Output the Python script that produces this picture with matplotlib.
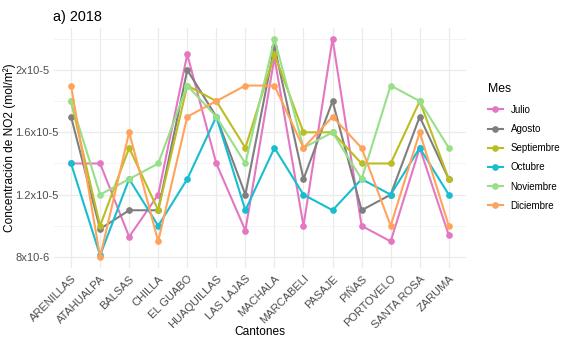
import matplotlib.pyplot as plt
import numpy as np

plt.rcParams["font.family"] = ["Liberation Sans", "DejaVu Sans"]

cantones = ["ARENILLAS", "ATAHUALPA", "BALSAS", "CHILLA", "EL GUABO", "HUAQUILLAS",
            "LAS LAJAS", "MACHALA", "MARCABELI", "PASAJE", "PIÑAS", "PORTOVELO",
            "SANTA ROSA", "ZARUMA"]

# NO2 en mol/m2 (x1e-6)
julio      = [14, 14, 9.3, 12, 21, 14, 9.7, 20.8, 10, 22, 10, 9, 15, 9.4]
agosto     = [17, 9.8, 11, 11, 20, 17, 12, 21.5, 13, 18, 11, 12, 17, 13]
septiembre = [18, 10, 15, 11, 19, 18, 15, 21, 16, 16, 14, 14, 18, 13]
octubre    = [14, 8.1, 13, 10, 13, 17, 11, 15, 12, 11, 13, 12, 15, 12]
noviembre  = [18, 12, 13, 14, 19, 17, 14, 22, 15, 16, 13, 19, 18, 15]
diciembre  = [19, 8, 16, 9, 17, 18, 19, 19, 15, 17, 15, 10, 16, 10]

meses = ["Julio", "Agosto", "Septiembre", "Octubre", "Noviembre", "Diciembre"]
series = [julio, agosto, septiembre, octubre, noviembre, diciembre]
colores = ["#e377c2", "#7f7f7f", "#bcbd22", "#17becf", "#98df8a", "#ffa35c"]

yticks = [8e-6, 1.2e-5, 1.6e-5, 2e-5]
ytick_labels = ["8x10-6", "1.2x10-5", "1.6x10-5", "2x10-5"]

fig = plt.figure(figsize=(5.66, 3.40), dpi=100)
ax = fig.add_axes([0.0947, 0.212, 0.729, 0.706])

x = np.arange(len(cantones))
for mes, vals, c in zip(meses, series, colores):
    ax.plot(x, np.array(vals) * 1e-6, color=c, lw=1.5, marker="o", ms=3.8,
            label=mes, solid_joinstyle="round")

ax.set_xlim(-0.6, len(cantones) - 0.4)
ax.set_ylim(7.3e-6, 22.7e-6)
ax.set_xticks(x)
ax.set_xticklabels(cantones, rotation=45, ha="right", rotation_mode="anchor",
                   fontsize=8, color="#4d4d4d")
ax.set_yticks(yticks)
ax.set_yticklabels(ytick_labels, fontsize=8, color="#4d4d4d")
ax.set_yticks([1e-5, 1.4e-5, 1.8e-5, 2.2e-5], minor=True)
ax.tick_params(length=0, which="both", pad=4)
# etiquetas del eje y alineadas a la izquierda
ax.tick_params(axis="y", pad=27.5)
for lbl in ax.get_yticklabels():
    lbl.set_horizontalalignment("left")

ax.grid(True, which="major", color="#ebebeb", lw=0.9)
ax.grid(True, which="minor", axis="y", color="#f2f2f2", lw=0.6)
ax.set_axisbelow(True)
for s in ax.spines.values():
    s.set_visible(False)

ax.set_xlabel("Cantones", fontsize=8.6)
ax.xaxis.set_label_coords(0.5, -0.243)
ax.set_ylabel("Concentración de NO2 (mol/m²)", fontsize=8.6)
ax.yaxis.set_label_coords(-0.092, 0.5)
fig.text(0.094, 0.938, "a) 2018", fontsize=10.4, ha="left", va="baseline")

leg = fig.legend(loc="upper left", bbox_to_anchor=(0.855, 0.766), frameon=False,
                 title="Mes", fontsize=7, title_fontsize=8.8, handlelength=1.55,
                 handletextpad=0.8, labelspacing=0.95, alignment="left",
                 borderaxespad=0)

fig.savefig("out.png", dpi=100)
